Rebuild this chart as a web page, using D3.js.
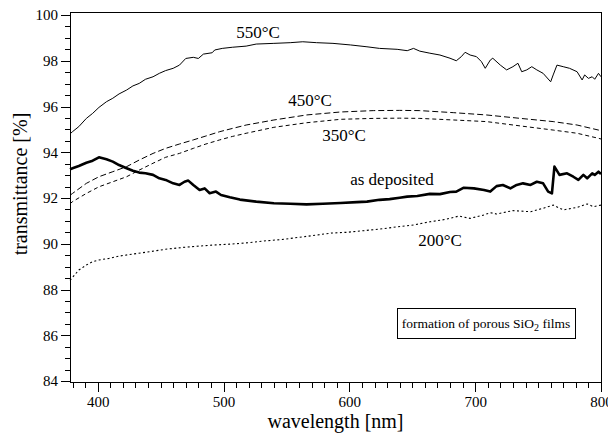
<!DOCTYPE html>
<html>
<head>
<meta charset="utf-8">
<script src="https://cdn.jsdelivr.net/npm/d3@7"></script>
<style>
  body { margin: 0; background: #fff; }
  svg { display: block; }
  text { font-family: "Liberation Serif", "Times New Roman", serif; fill: #000; }
  .tick line { stroke: #000; shape-rendering: crispEdges; }
</style>
</head>
<body>
<svg width="608" height="434"></svg>
<script>
// wavelength [nm] / transmittance [%] pairs
const as_deposited = [
  [378, 93.25], [380, 93.30], [385, 93.40], [391, 93.54], [396, 93.63], [401, 93.78],
  [407, 93.69], [412, 93.59], [417, 93.44], [423, 93.30], [428, 93.19], [433, 93.11],
  [438, 93.08], [444, 93.01], [449, 92.86], [454, 92.79], [460, 92.64], [465, 92.57],
  [469, 92.71], [472, 92.76], [476, 92.57], [481, 92.35], [485, 92.42], [489, 92.21],
  [494, 92.28], [498, 92.13], [505, 92.03], [513, 91.93], [526, 91.84], [540, 91.77],
  [553, 91.75], [566, 91.72], [579, 91.75], [593, 91.78], [606, 91.82], [614, 91.84],
  [624, 91.92], [632, 91.95], [640, 92.01], [646, 92.06], [654, 92.09], [664, 92.18],
  [672, 92.17], [680, 92.26], [685, 92.28], [691, 92.45], [699, 92.42], [707, 92.35],
  [712, 92.28], [717, 92.52], [722, 92.57], [728, 92.42], [733, 92.57], [738, 92.64],
  [744, 92.57], [749, 92.71], [754, 92.64], [758, 92.28], [761, 92.20], [763, 93.37],
  [767, 93.01], [773, 93.08], [778, 92.93], [782, 92.79], [786, 93.01], [789, 92.86],
  [793, 93.08], [795, 93.01], [798, 93.15], [800, 93.05]
];

const t200 = [
  [378, 88.40], [380, 88.53], [385, 88.85], [391, 89.07], [396, 89.22], [401, 89.29],
  [409, 89.36], [417, 89.46], [428, 89.55], [441, 89.65], [454, 89.76], [468, 89.84],
  [481, 89.90], [494, 89.95], [507, 89.99], [521, 90.05], [534, 90.13], [547, 90.19],
  [560, 90.28], [574, 90.38], [586, 90.47], [598, 90.50], [611, 90.57], [624, 90.64],
  [638, 90.74], [651, 90.82], [664, 90.96], [677, 91.07], [687, 91.21], [696, 91.11],
  [707, 91.26], [712, 91.36], [717, 91.30], [730, 91.45], [744, 91.40], [754, 91.55],
  [762, 91.69], [770, 91.48], [781, 91.59], [789, 91.74], [794, 91.62], [800, 91.69]
];

const t350 = [
  [378, 91.75], [380, 91.84], [391, 92.20], [401, 92.49], [412, 92.71], [423, 92.93],
  [433, 93.22], [444, 93.52], [454, 93.78], [465, 93.95], [476, 94.17], [486, 94.36],
  [497, 94.54], [507, 94.69], [518, 94.83], [540, 95.09], [566, 95.29], [593, 95.44],
  [619, 95.48], [640, 95.49], [656, 95.48], [683, 95.41], [709, 95.34], [736, 95.15],
  [762, 94.97], [781, 94.83], [798, 94.61], [800, 94.58]
];

const t450 = [
  [378, 92.12], [380, 92.20], [391, 92.64], [401, 92.93], [412, 93.15], [423, 93.37],
  [433, 93.66], [444, 93.95], [454, 94.17], [465, 94.36], [476, 94.54], [486, 94.71],
  [497, 94.90], [507, 95.04], [518, 95.19], [540, 95.41], [566, 95.63], [593, 95.76],
  [619, 95.82], [640, 95.83], [656, 95.82], [683, 95.73], [709, 95.63], [736, 95.48],
  [762, 95.34], [781, 95.19], [798, 94.97], [800, 94.95]
];

const t550 = [
  [378, 94.80], [380, 94.90], [385, 95.12], [391, 95.48], [396, 95.70], [401, 95.96],
  [407, 96.21], [412, 96.36], [417, 96.55], [423, 96.72], [428, 96.90], [433, 97.01],
  [438, 97.19], [444, 97.30], [449, 97.45], [454, 97.57], [460, 97.67], [465, 97.81],
  [470, 98.10], [476, 98.15], [480, 98.10], [484, 98.29], [491, 98.35], [493, 98.47],
  [499, 98.54], [507, 98.59], [518, 98.64], [526, 98.73], [540, 98.76], [553, 98.79],
  [563, 98.83], [574, 98.79], [587, 98.76], [601, 98.69], [614, 98.61], [624, 98.54],
  [638, 98.50], [646, 98.44], [651, 98.54], [656, 98.42], [664, 98.33], [672, 98.25],
  [680, 98.11], [685, 98.00], [689, 98.18], [692, 98.37], [696, 98.25], [701, 98.18],
  [705, 97.96], [708, 97.67], [712, 98.03], [714, 98.11], [720, 97.81], [725, 97.60],
  [730, 97.74], [734, 97.89], [737, 97.52], [741, 97.60], [745, 97.74], [749, 97.60],
  [754, 97.45], [760, 97.08], [762, 97.38], [765, 97.81], [770, 97.74], [775, 97.67],
  [781, 97.52], [785, 97.16], [787, 97.38], [790, 97.23], [793, 97.30], [795, 97.19],
  [798, 97.45], [800, 97.30]
];

const yTicks = [84, 86, 88, 90, 92, 94, 96, 98, 100];
const xTicks = [400, 500, 600, 700, 800];

const svg = d3.select('svg');

const mLeft = 70, mRight = 601, mTop = 12, mBottom = 382;

const x = d3.scaleLinear().domain([378, 800]).range([mLeft, mRight]);
const y = d3.scaleLinear().domain([84, 100]).range([381, 15]);

// frame
svg.append('rect')
  .attr('x', mLeft + 0.5).attr('y', mTop + 0.5)
  .attr('width', mRight - mLeft).attr('height', mBottom - mTop)
  .attr('fill', 'none').attr('stroke', '#000').attr('stroke-width', 1)
  .attr('shape-rendering', 'crispEdges');

// y axis: major ticks with labels, minor every 0.5
const yAxisG = svg.append('g')
  .attr('transform', `translate(${mLeft},0)`)
  .call(d3.axisLeft(y).tickValues(yTicks).tickSize(9).tickPadding(3).tickFormat(d3.format('d')));
yAxisG.select('.domain').remove();
yAxisG.selectAll('text').style('font-size', '15px').style('font-family', '"Liberation Serif", serif');

svg.append('g')
  .attr('transform', `translate(${mLeft},0)`)
  .call(d3.axisLeft(y).tickValues(d3.range(84, 100.01, 0.5)).tickSize(5).tickFormat(''))
  .select('.domain').remove();

// x axis
const xAxisG = svg.append('g')
  .attr('transform', `translate(0,${mBottom})`)
  .call(d3.axisBottom(x).tickValues(xTicks).tickSize(10).tickPadding(4).tickFormat(d3.format('d')));
xAxisG.select('.domain').remove();
xAxisG.selectAll('text').style('font-size', '15px').style('font-family', '"Liberation Serif", serif');

svg.append('g')
  .attr('transform', `translate(0,${mBottom})`)
  .call(d3.axisBottom(x).tickValues(d3.range(380, 800.1, 10)).tickSize(6).tickFormat(''))
  .select('.domain').remove();

// axis titles
svg.append('text')
  .attr('transform', 'translate(27,184) rotate(-90)')
  .attr('text-anchor', 'middle')
  .style('font-size', '20px')
  .text('transmittance  [%]');

svg.append('text')
  .attr('x', (mLeft + mRight) / 2).attr('y', 428)
  .attr('text-anchor', 'middle')
  .style('font-size', '20px')
  .text('wavelength [nm]');

// curves
const line = d3.line().x(d => x(d[0])).y(d => y(d[1]));

const series = [
  { data: t200, width: 1.1, dash: '2,2.5' },
  { data: t350, width: 1, dash: '4,3' },
  { data: t450, width: 1, dash: '6,3' },
  { data: t550, width: 1, dash: null },
  { data: as_deposited, width: 2.6, dash: null }
];

svg.append('g').selectAll('path')
  .data(series)
  .enter().append('path')
    .attr('d', d => line(d.data))
    .attr('fill', 'none')
    .attr('stroke', '#000')
    .attr('stroke-width', d => d.width)
    .attr('stroke-dasharray', d => d.dash)
    .attr('stroke-linejoin', 'round');

// curve labels
const labels = [
  { text: '550°C', x: 258, y: 38 },
  { text: '450°C', x: 310, y: 106 },
  { text: '350°C', x: 344, y: 141 },
  { text: 'as deposited', x: 392, y: 185 },
  { text: '200°C', x: 440, y: 246 }
];
svg.append('g').selectAll('text')
  .data(labels)
  .enter().append('text')
    .attr('x', d => d.x).attr('y', d => d.y)
    .attr('text-anchor', 'middle')
    .style('font-size', '17px')
    .text(d => d.text);

// note box
svg.append('rect')
  .attr('x', 397.5).attr('y', 308.5).attr('width', 178).attr('height', 30)
  .attr('fill', '#fff').attr('stroke', '#000').attr('stroke-width', 1)
  .attr('shape-rendering', 'crispEdges');

const note = svg.append('text')
  .attr('x', 486).attr('y', 328)
  .attr('text-anchor', 'middle')
  .style('font-size', '13.5px');
note.append('tspan').text('formation of porous SiO');
note.append('tspan').attr('dy', 3).style('font-size', '10px').text('2');
note.append('tspan').attr('dy', -3).text(' films');
</script>
</body>
</html>
